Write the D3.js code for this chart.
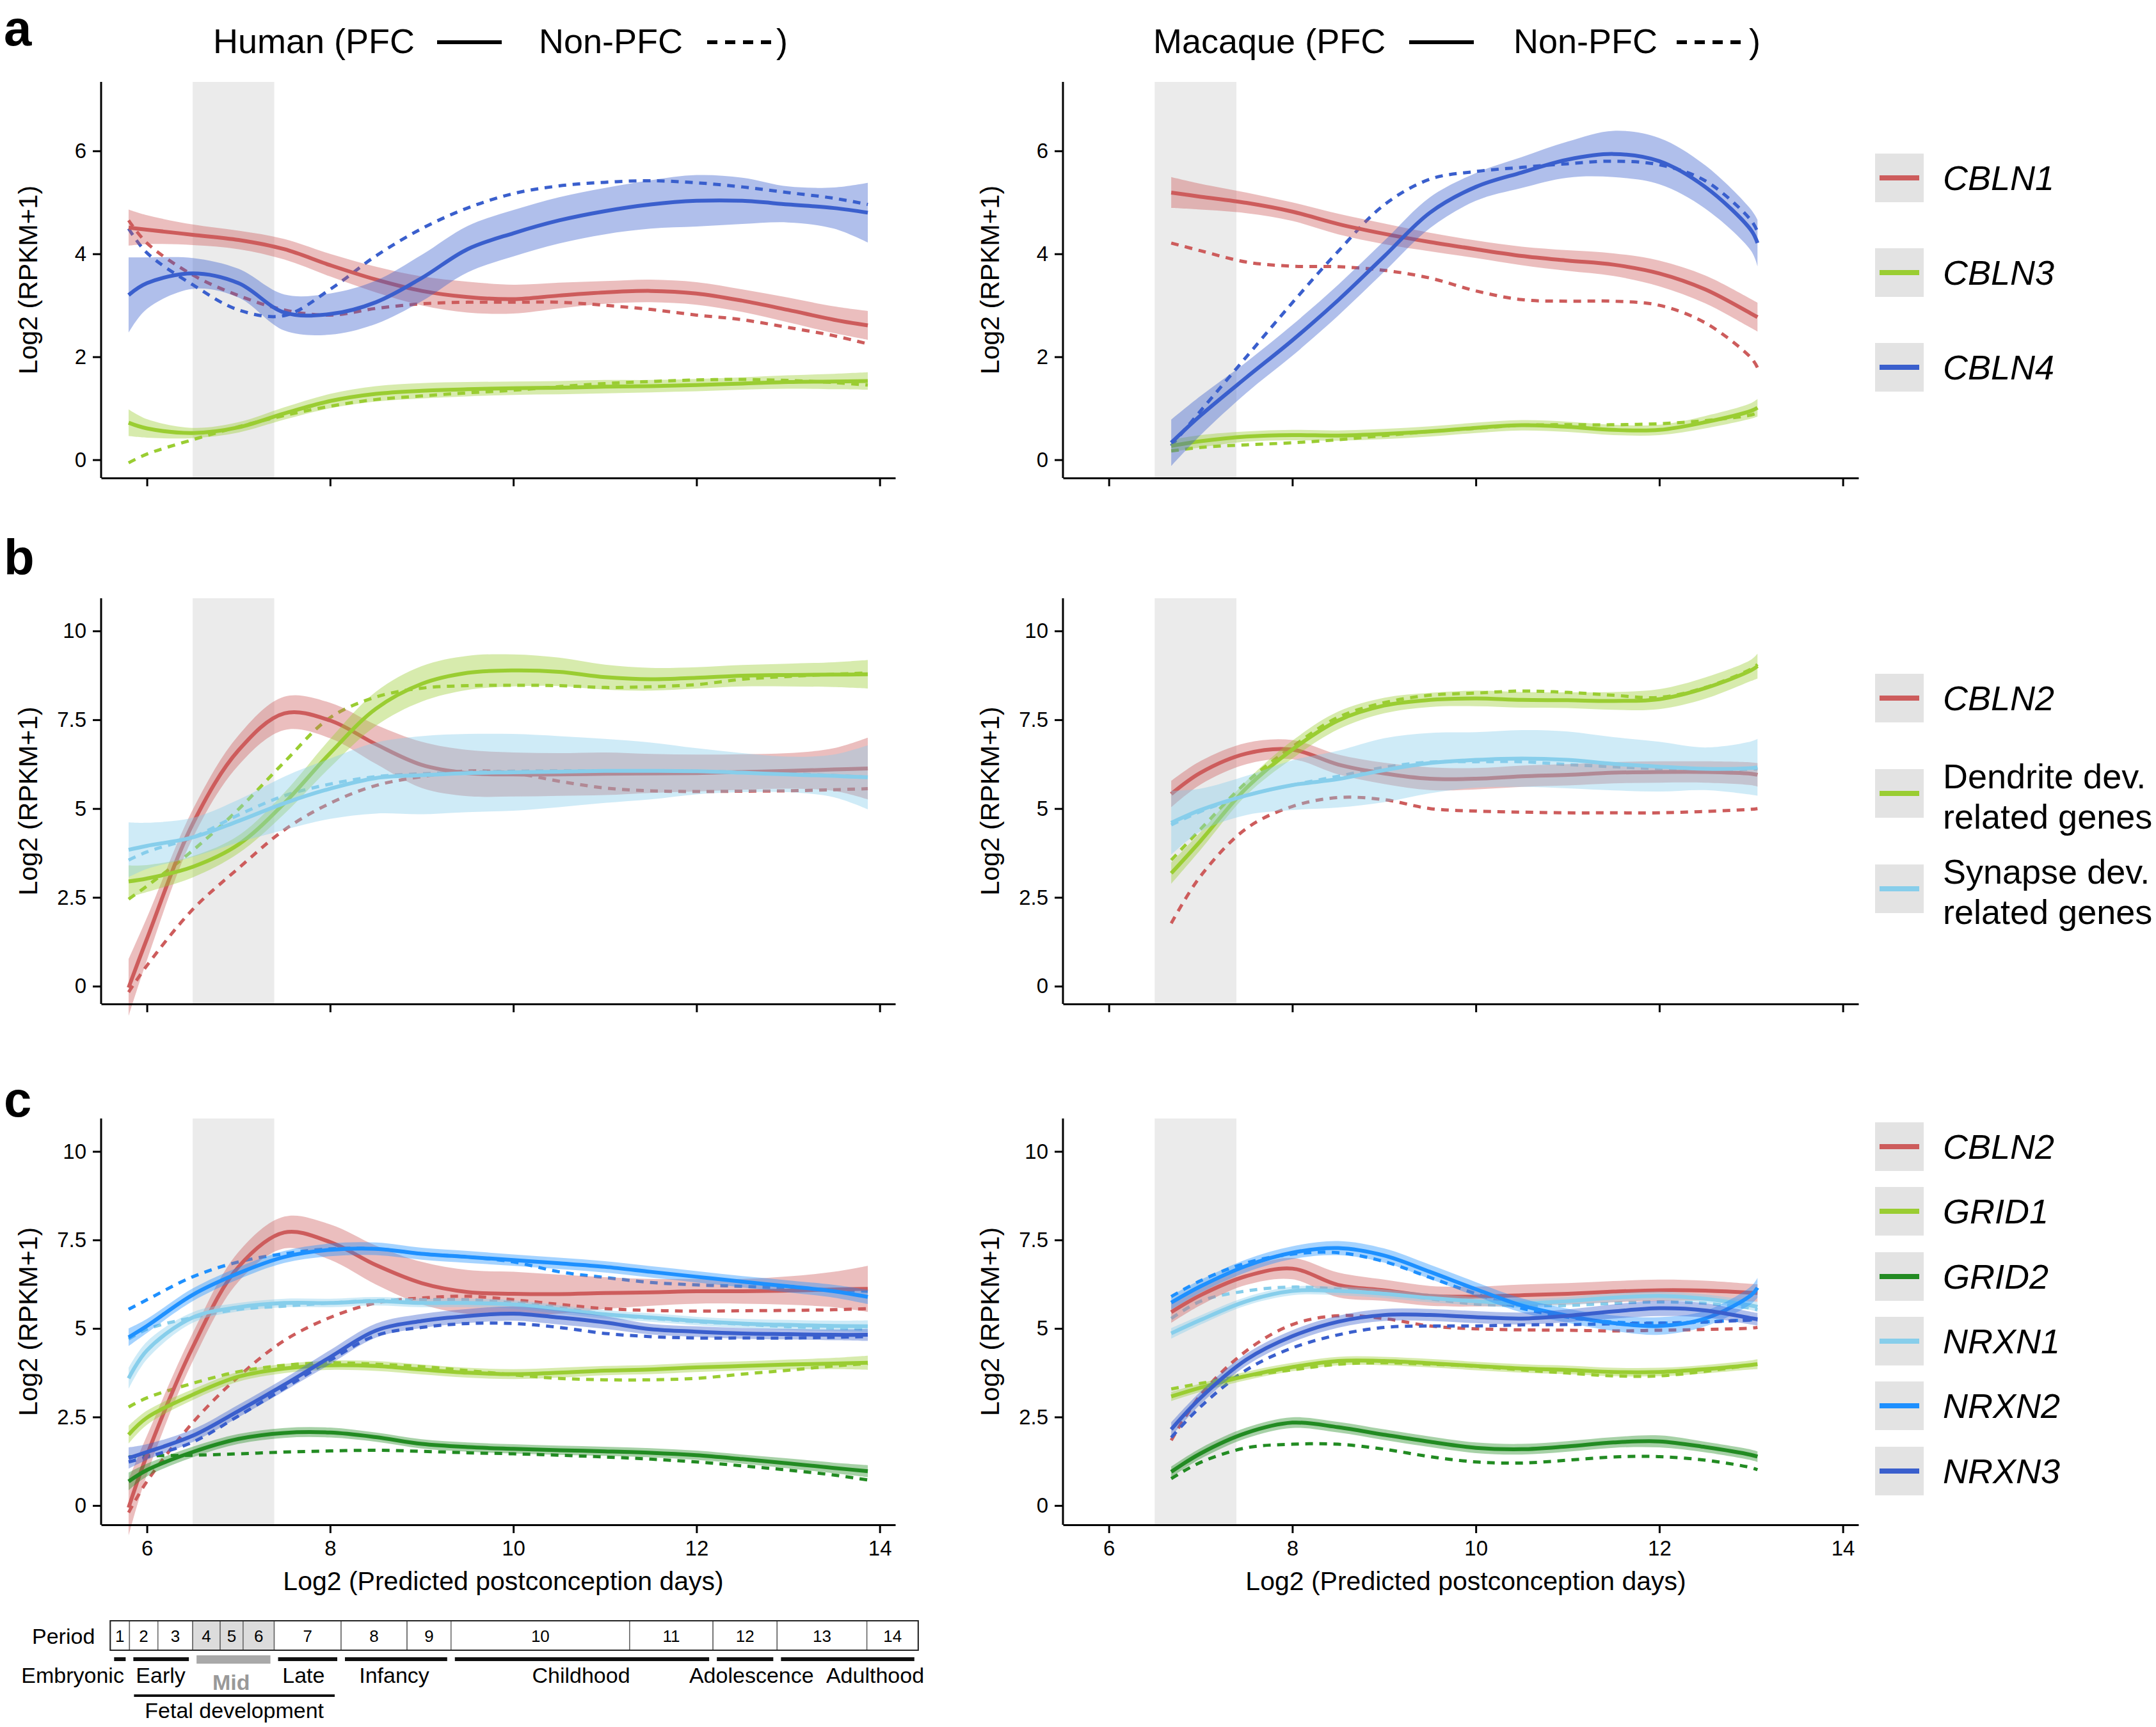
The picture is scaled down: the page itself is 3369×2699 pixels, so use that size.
<!DOCTYPE html>
<html><head><meta charset="utf-8">
<script src="https://cdn.jsdelivr.net/npm/d3@7"></script>
<style>
html,body{margin:0;padding:0;background:#fff;}
svg text{font-family:"Liberation Sans",Arial,Helvetica,sans-serif;}
</style></head><body>
<svg id="chart" width="3369" height="2699"></svg>
<script>
// ---------- x grids (log2 predicted postconception days) ----------
const xHuman   = [5.8, 6, 6.5, 7, 7.5, 8, 8.5, 9, 9.5, 10, 10.5, 11, 11.5, 12, 12.5, 13, 13.5, 13.87];
const xMacaque = [6.68, 7, 7.5, 8, 8.5, 9, 9.5, 10, 10.5, 11, 11.5, 12, 12.5, 13, 13.07];

// ---------- panel a, human ----------
const hA_CBLN1     = [4.51, 4.47, 4.37, 4.27, 4.09, 3.78, 3.50, 3.28, 3.16, 3.12, 3.19, 3.25, 3.28, 3.23, 3.09, 2.91, 2.72, 2.61];
const hA_CBLN1_sd  = [0.35, 0.28, 0.2, 0.18, 0.2, 0.22, 0.25, 0.28, 0.3, 0.28, 0.25, 0.22, 0.22, 0.22, 0.22, 0.24, 0.26, 0.28];
const hA_CBLN1_non = [4.65, 4.21, 3.59, 3.19, 2.91, 2.81, 2.94, 3.03, 3.06, 3.06, 3.06, 3.0, 2.92, 2.81, 2.72, 2.57, 2.41, 2.25];
const hA_CBLN3     = [0.72, 0.61, 0.52, 0.63, 0.9, 1.14, 1.28, 1.34, 1.37, 1.39, 1.40, 1.42, 1.43, 1.45, 1.48, 1.51, 1.52, 1.53];
const hA_CBLN3_sd  = [0.26, 0.18, 0.1, 0.1, 0.12, 0.14, 0.15, 0.15, 0.14, 0.13, 0.13, 0.13, 0.12, 0.12, 0.12, 0.13, 0.15, 0.17];
const hA_CBLN3_non = [-0.06, 0.11, 0.39, 0.64, 0.86, 1.04, 1.17, 1.24, 1.30, 1.35, 1.42, 1.48, 1.52, 1.55, 1.56, 1.54, 1.50, 1.45];
const hA_CBLN4     = [3.2, 3.43, 3.62, 3.43, 2.86, 2.83, 3.06, 3.53, 4.09, 4.40, 4.65, 4.83, 4.96, 5.03, 5.03, 4.96, 4.89, 4.80];
const hA_CBLN4_sd  = [0.73, 0.5, 0.3, 0.28, 0.35, 0.4, 0.42, 0.45, 0.45, 0.45, 0.45, 0.45, 0.47, 0.5, 0.45, 0.35, 0.4, 0.58];
const hA_CBLN4_non = [4.49, 4.02, 3.40, 2.91, 2.80, 3.31, 3.96, 4.49, 4.89, 5.17, 5.32, 5.39, 5.42, 5.38, 5.30, 5.19, 5.08, 4.96];

// ---------- panel a, macaque ----------
const mA_CBLN1     = [5.19, 5.11, 4.99, 4.82, 4.58, 4.39, 4.23, 4.09, 3.96, 3.87, 3.79, 3.62, 3.31, 2.84, 2.77];
const mA_CBLN1_sd  = [0.3, 0.25, 0.2, 0.18, 0.2, 0.2, 0.18, 0.17, 0.18, 0.2, 0.22, 0.25, 0.27, 0.28, 0.28];
const mA_CBLN1_non = [4.21, 4.06, 3.84, 3.76, 3.75, 3.68, 3.53, 3.28, 3.11, 3.08, 3.08, 3.0, 2.66, 1.98, 1.79];
const mA_CBLN3     = [0.27, 0.36, 0.45, 0.48, 0.47, 0.50, 0.55, 0.62, 0.67, 0.64, 0.58, 0.58, 0.73, 0.95, 1.01];
const mA_CBLN3_sd  = [0.12, 0.12, 0.1, 0.1, 0.1, 0.1, 0.1, 0.1, 0.1, 0.1, 0.1, 0.1, 0.12, 0.15, 0.17];
const mA_CBLN3_non = [0.17, 0.24, 0.29, 0.33, 0.39, 0.47, 0.55, 0.61, 0.67, 0.68, 0.68, 0.70, 0.76, 0.87, 0.91];
const mA_CBLN4     = [0.33, 0.86, 1.6, 2.32, 3.1, 3.95, 4.8, 5.3, 5.58, 5.83, 5.94, 5.80, 5.30, 4.46, 4.21];
const mA_CBLN4_sd  = [0.45, 0.38, 0.3, 0.3, 0.3, 0.3, 0.3, 0.27, 0.3, 0.35, 0.45, 0.45, 0.42, 0.4, 0.45];
const mA_CBLN4_non = [0.27, 0.95, 2.0, 3.05, 4.05, 4.95, 5.45, 5.6, 5.68, 5.75, 5.8, 5.73, 5.42, 4.65, 4.43];

// ---------- panel b, human ----------
const hB_CBLN2     = [-0.04, 1.33, 4.57, 6.64, 7.68, 7.48, 6.81, 6.23, 6.0, 5.96, 5.96, 5.98, 5.99, 6.0, 6.03, 6.06, 6.1, 6.13];
const hB_CBLN2_sd  = [0.8, 0.6, 0.4, 0.42, 0.47, 0.5, 0.55, 0.65, 0.65, 0.62, 0.6, 0.6, 0.55, 0.52, 0.5, 0.5, 0.6, 0.87];
const hB_CBLN2_non = [-0.17, 0.58, 2.16, 3.32, 4.40, 5.15, 5.65, 5.90, 6.06, 6.0, 5.77, 5.58, 5.50, 5.48, 5.49, 5.50, 5.53, 5.56];
const hB_DEND      = [2.95, 3.03, 3.36, 3.99, 5.15, 6.56, 7.81, 8.51, 8.82, 8.89, 8.85, 8.70, 8.64, 8.68, 8.74, 8.76, 8.77, 8.78];
const hB_DEND_sd   = [0.45, 0.38, 0.3, 0.25, 0.3, 0.4, 0.48, 0.5, 0.48, 0.45, 0.4, 0.35, 0.32, 0.3, 0.3, 0.32, 0.35, 0.4];
const hB_DEND_non  = [2.45, 2.82, 3.82, 4.98, 6.31, 7.56, 8.14, 8.39, 8.46, 8.47, 8.46, 8.41, 8.43, 8.49, 8.64, 8.72, 8.78, 8.82];
const hB_SYN       = [3.84, 3.95, 4.19, 4.65, 5.15, 5.56, 5.86, 5.94, 6.0, 6.02, 6.04, 6.06, 6.06, 6.05, 6.01, 5.96, 5.92, 5.88];
const hB_SYN_sd    = [0.77, 0.65, 0.55, 0.6, 0.75, 0.85, 1.0, 1.1, 1.1, 1.08, 1.0, 0.9, 0.8, 0.65, 0.55, 0.5, 0.6, 0.9];
const hB_SYN_non   = [3.55, 3.78, 4.19, 4.82, 5.36, 5.69, 5.9, 5.98, 6.02, 6.05, 6.06, 6.06, 6.06, 6.05, 6.02, 5.98, 5.93, 5.88];

// ---------- panel b, macaque ----------
const mB_CBLN2     = [5.41, 6.01, 6.55, 6.66, 6.24, 5.99, 5.84, 5.84, 5.91, 5.95, 6.01, 6.03, 6.03, 5.98, 5.95];
const mB_CBLN2_sd  = [0.37, 0.33, 0.3, 0.27, 0.28, 0.3, 0.32, 0.3, 0.3, 0.3, 0.3, 0.3, 0.3, 0.32, 0.33];
const mB_CBLN2_non = [1.77, 3.10, 4.44, 5.06, 5.31, 5.25, 5.0, 4.93, 4.90, 4.88, 4.88, 4.88, 4.92, 4.98, 5.0];
const mB_DEND      = [3.18, 4.09, 5.58, 6.66, 7.48, 7.90, 8.06, 8.10, 8.06, 8.05, 8.03, 8.08, 8.39, 8.89, 9.01];
const mB_DEND_sd   = [0.3, 0.25, 0.2, 0.25, 0.25, 0.22, 0.2, 0.22, 0.22, 0.22, 0.25, 0.28, 0.3, 0.3, 0.35];
const mB_DEND_non  = [3.55, 4.42, 5.74, 6.74, 7.57, 7.98, 8.19, 8.25, 8.31, 8.27, 8.19, 8.13, 8.41, 8.93, 9.06];
const mB_SYN       = [4.60, 4.96, 5.37, 5.66, 5.83, 6.08, 6.28, 6.37, 6.41, 6.37, 6.26, 6.18, 6.12, 6.14, 6.16];
const mB_SYN_sd    = [0.9, 0.6, 0.55, 0.7, 0.8, 0.9, 0.85, 0.78, 0.8, 0.8, 0.75, 0.7, 0.6, 0.75, 0.8];
const mB_SYN_non   = [4.54, 4.92, 5.37, 5.66, 5.91, 6.16, 6.31, 6.32, 6.32, 6.24, 6.18, 6.12, 6.09, 6.11, 6.12];

// ---------- panel c, human ----------
const hC_CBLN2     = [-0.06, 1.42, 4.47, 6.74, 7.71, 7.44, 6.79, 6.28, 6.03, 5.98, 5.97, 6.0, 6.02, 6.05, 6.05, 6.07, 6.10, 6.12];
const hC_CBLN2_sd  = [0.8, 0.55, 0.4, 0.42, 0.45, 0.5, 0.55, 0.6, 0.62, 0.62, 0.55, 0.45, 0.38, 0.35, 0.35, 0.4, 0.5, 0.65];
const hC_CBLN2_non = [-0.2, 0.68, 2.34, 3.64, 4.66, 5.31, 5.72, 5.86, 5.91, 5.81, 5.68, 5.56, 5.51, 5.49, 5.50, 5.51, 5.53, 5.56];
const hC_GRID1     = [2.0, 2.48, 3.13, 3.64, 3.87, 3.96, 3.94, 3.84, 3.75, 3.71, 3.75, 3.81, 3.84, 3.90, 3.94, 3.98, 4.01, 4.03];
const hC_GRID1_sd  = [0.25, 0.2, 0.15, 0.14, 0.13, 0.13, 0.14, 0.14, 0.14, 0.14, 0.14, 0.13, 0.13, 0.13, 0.13, 0.14, 0.16, 0.2];
const hC_GRID1_non = [2.78, 3.04, 3.45, 3.78, 3.96, 4.03, 3.99, 3.92, 3.81, 3.69, 3.59, 3.55, 3.55, 3.59, 3.71, 3.82, 3.94, 4.01];
const hC_GRID2     = [0.68, 1.0, 1.51, 1.88, 2.05, 2.06, 1.93, 1.74, 1.65, 1.60, 1.56, 1.53, 1.49, 1.42, 1.31, 1.19, 1.06, 0.97];
const hC_GRID2_sd  = [0.25, 0.18, 0.15, 0.14, 0.14, 0.14, 0.13, 0.13, 0.13, 0.13, 0.13, 0.13, 0.13, 0.13, 0.13, 0.14, 0.15, 0.17];
const hC_GRID2_non = [1.37, 1.40, 1.42, 1.46, 1.51, 1.54, 1.56, 1.53, 1.49, 1.46, 1.42, 1.37, 1.31, 1.23, 1.12, 1.0, 0.86, 0.72];
const hC_NRXN1     = [3.59, 4.38, 5.31, 5.60, 5.72, 5.72, 5.77, 5.72, 5.72, 5.68, 5.54, 5.40, 5.31, 5.21, 5.14, 5.10, 5.07, 5.06];
const hC_NRXN1_sd  = [0.3, 0.25, 0.15, 0.12, 0.12, 0.12, 0.12, 0.12, 0.12, 0.12, 0.12, 0.12, 0.12, 0.12, 0.13, 0.14, 0.15, 0.17];
const hC_NRXN1_non = [4.70, 4.98, 5.31, 5.54, 5.63, 5.72, 5.79, 5.81, 5.81, 5.72, 5.58, 5.40, 5.29, 5.19, 5.12, 5.05, 5.01, 4.98];
const hC_NRXN2     = [4.75, 5.07, 5.95, 6.56, 7.02, 7.22, 7.25, 7.11, 7.02, 6.93, 6.84, 6.74, 6.60, 6.46, 6.32, 6.19, 6.05, 5.89];
const hC_NRXN2_sd  = [0.25, 0.2, 0.18, 0.17, 0.17, 0.18, 0.18, 0.17, 0.17, 0.16, 0.16, 0.16, 0.16, 0.16, 0.16, 0.17, 0.18, 0.2];
const hC_NRXN2_non = [5.54, 5.81, 6.46, 6.88, 7.11, 7.25, 7.25, 7.11, 7.02, 6.88, 6.60, 6.44, 6.30, 6.23, 6.19, 6.14, 6.09, 6.05];
const hC_NRXN3     = [1.34, 1.51, 1.97, 2.67, 3.41, 4.19, 4.94, 5.21, 5.35, 5.42, 5.31, 5.17, 4.98, 4.91, 4.86, 4.84, 4.82, 4.82];
const hC_NRXN3_sd  = [0.3, 0.22, 0.18, 0.18, 0.18, 0.2, 0.2, 0.2, 0.2, 0.2, 0.2, 0.18, 0.15, 0.15, 0.15, 0.15, 0.15, 0.17];
const hC_NRXN3_non = [1.23, 1.37, 1.79, 2.53, 3.31, 4.10, 4.80, 5.03, 5.14, 5.14, 5.03, 4.86, 4.77, 4.73, 4.73, 4.73, 4.75, 4.77];

// ---------- panel c, macaque ----------
const mC_CBLN2     = [5.46, 5.94, 6.48, 6.69, 6.23, 6.08, 5.92, 5.90, 5.94, 5.98, 6.04, 6.08, 6.07, 6.01, 6.0];
const mC_CBLN2_sd  = [0.3, 0.28, 0.25, 0.3, 0.35, 0.3, 0.28, 0.28, 0.3, 0.3, 0.3, 0.3, 0.28, 0.25, 0.25];
const mC_CBLN2_non = [1.84, 3.12, 4.37, 5.11, 5.36, 5.28, 5.07, 4.99, 4.96, 4.95, 4.93, 4.95, 4.97, 5.01, 5.03];
const mC_GRID1     = [3.08, 3.33, 3.66, 3.91, 4.08, 4.08, 4.02, 3.94, 3.87, 3.83, 3.77, 3.77, 3.85, 3.97, 3.99];
const mC_GRID1_sd  = [0.13, 0.12, 0.12, 0.12, 0.12, 0.12, 0.12, 0.12, 0.12, 0.12, 0.12, 0.12, 0.12, 0.13, 0.14];
const mC_GRID1_non = [3.29, 3.45, 3.66, 3.83, 3.99, 4.03, 3.99, 3.93, 3.83, 3.74, 3.66, 3.66, 3.79, 3.97, 3.99];
const mC_GRID2     = [0.95, 1.47, 2.05, 2.34, 2.21, 2.0, 1.80, 1.63, 1.59, 1.67, 1.78, 1.81, 1.65, 1.43, 1.38];
const mC_GRID2_sd  = [0.15, 0.15, 0.15, 0.15, 0.15, 0.15, 0.15, 0.15, 0.15, 0.15, 0.15, 0.17, 0.15, 0.15, 0.15];
const mC_GRID2_non = [0.76, 1.22, 1.63, 1.73, 1.73, 1.59, 1.38, 1.23, 1.20, 1.28, 1.37, 1.38, 1.28, 1.07, 1.01];
const mC_NRXN1     = [4.86, 5.24, 5.77, 6.06, 6.06, 5.98, 5.86, 5.77, 5.71, 5.77, 5.87, 5.92, 5.84, 5.65, 5.61];
const mC_NRXN1_sd  = [0.15, 0.13, 0.12, 0.12, 0.12, 0.12, 0.12, 0.12, 0.12, 0.12, 0.12, 0.12, 0.12, 0.13, 0.14];
const mC_NRXN1_non = [5.28, 5.77, 6.06, 6.17, 6.11, 6.01, 5.84, 5.69, 5.65, 5.65, 5.71, 5.75, 5.71, 5.57, 5.53];
const mC_NRXN2     = [5.73, 6.19, 6.77, 7.14, 7.27, 7.06, 6.60, 6.11, 5.65, 5.36, 5.15, 5.07, 5.28, 5.94, 6.15];
const mC_NRXN2_sd  = [0.2, 0.18, 0.18, 0.18, 0.2, 0.2, 0.2, 0.2, 0.2, 0.2, 0.22, 0.25, 0.22, 0.25, 0.28];
const mC_NRXN2_non = [5.90, 6.35, 6.85, 7.10, 7.14, 6.89, 6.44, 5.98, 5.57, 5.32, 5.18, 5.15, 5.19, 5.24, 5.24];
const mC_NRXN3     = [2.15, 3.04, 4.12, 4.78, 5.19, 5.38, 5.38, 5.32, 5.28, 5.36, 5.48, 5.57, 5.51, 5.29, 5.26];
const mC_NRXN3_sd  = [0.2, 0.18, 0.17, 0.17, 0.17, 0.17, 0.17, 0.17, 0.17, 0.18, 0.2, 0.22, 0.2, 0.18, 0.18];
const mC_NRXN3_non = [1.92, 2.79, 3.83, 4.45, 4.82, 5.03, 5.07, 5.07, 5.10, 5.11, 5.13, 5.15, 5.18, 5.24, 5.24];

// ---------- colours, legends, ticks ----------
const geneColor = {
  CBLN1:'#CD5C5C', CBLN2:'#CD5C5C', CBLN3:'#9ACD32', CBLN4:'#3A5FCD',
  DEND:'#9ACD32', SYN:'#87CEEB',
  GRID1:'#9ACD32', GRID2:'#228B22', NRXN1:'#87CEEB', NRXN2:'#1E90FF', NRXN3:'#3A5FCD'
};
const legendA = [['CBLN1'],['CBLN3'],['CBLN4']];
const legendAKeys = ['CBLN1','CBLN3','CBLN4'];
const legendBKeys = ['CBLN2','DEND','SYN'];
const legendBLabels = [['CBLN2'],['Dendrite dev.','related genes'],['Synapse dev.','related genes']];
const legendBItalic = [true,false,false];
const legendCKeys = ['CBLN2','GRID1','GRID2','NRXN1','NRXN2','NRXN3'];
const yTicksA = [0,2,4,6];
const yTicksBC = [0,2.5,5,7.5,10];
const xTicks = [6,8,10,12,14];
const midFetal = [6.5, 7.39];

// period table
const periodNames = ['1','2','3','4','5','6','7','8','9','10','11','12','13','14'];
const periodBounds = [5.6, 5.81, 6.12, 6.5, 6.8, 7.05, 7.39, 8.12, 8.84, 9.32, 11.27, 12.18, 12.88, 13.86, 14.42];
const periodShaded = ['4','5','6'];
const stageNames  = ['Embryonic','Early','Mid','Late','Infancy','Childhood','Adolescence','Adulthood'];
const stageFirst  = [1, 2, 4, 7, 8, 10, 12, 13];
const stageLast   = [1, 3, 6, 7, 9, 11, 12, 14];
const stageLabelX = [5.19, 6.15, 6.92, 7.71, 8.70, 10.74, 12.60, 13.95];

// ---------- build ----------
const svg = d3.select('#chart');
const W = 3369, H = 2699;
svg.append('rect').attr('width',W).attr('height',H).attr('fill','#fff');

const xDomain = [5.5, 14.17];
const cols = {L:[158,1399], R:[1661,2904]};
const rows = {
  a:{top:128, bottom:747, domain:[-0.354,7.34], ticks:yTicksA},
  b:{top:935, bottom:1569, domain:[-0.5,10.92], ticks:yTicksBC},
  c:{top:1748, bottom:2383, domain:[-0.545,10.93], ticks:yTicksBC}
};

function S(key, pfc, sd, non){ return {key, pfc, sd, non}; }
const panels = [
  {row:'a', col:'L', xs:xHuman, series:[S('CBLN1',hA_CBLN1,hA_CBLN1_sd,hA_CBLN1_non),S('CBLN3',hA_CBLN3,hA_CBLN3_sd,hA_CBLN3_non),S('CBLN4',hA_CBLN4,hA_CBLN4_sd,hA_CBLN4_non)]},
  {row:'a', col:'R', xs:xMacaque, series:[S('CBLN1',mA_CBLN1,mA_CBLN1_sd,mA_CBLN1_non),S('CBLN3',mA_CBLN3,mA_CBLN3_sd,mA_CBLN3_non),S('CBLN4',mA_CBLN4,mA_CBLN4_sd,mA_CBLN4_non)]},
  {row:'b', col:'L', xs:xHuman, series:[S('CBLN2',hB_CBLN2,hB_CBLN2_sd,hB_CBLN2_non),S('DEND',hB_DEND,hB_DEND_sd,hB_DEND_non),S('SYN',hB_SYN,hB_SYN_sd,hB_SYN_non)]},
  {row:'b', col:'R', xs:xMacaque, series:[S('CBLN2',mB_CBLN2,mB_CBLN2_sd,mB_CBLN2_non),S('DEND',mB_DEND,mB_DEND_sd,mB_DEND_non),S('SYN',mB_SYN,mB_SYN_sd,mB_SYN_non)]},
  {row:'c', col:'L', xs:xHuman, series:[S('CBLN2',hC_CBLN2,hC_CBLN2_sd,hC_CBLN2_non),S('GRID1',hC_GRID1,hC_GRID1_sd,hC_GRID1_non),S('GRID2',hC_GRID2,hC_GRID2_sd,hC_GRID2_non),S('NRXN1',hC_NRXN1,hC_NRXN1_sd,hC_NRXN1_non),S('NRXN2',hC_NRXN2,hC_NRXN2_sd,hC_NRXN2_non),S('NRXN3',hC_NRXN3,hC_NRXN3_sd,hC_NRXN3_non)]},
  {row:'c', col:'R', xs:xMacaque, series:[S('CBLN2',mC_CBLN2,mC_CBLN2_sd,mC_CBLN2_non),S('GRID1',mC_GRID1,mC_GRID1_sd,mC_GRID1_non),S('GRID2',mC_GRID2,mC_GRID2_sd,mC_GRID2_non),S('NRXN1',mC_NRXN1,mC_NRXN1_sd,mC_NRXN1_non),S('NRXN2',mC_NRXN2,mC_NRXN2_sd,mC_NRXN2_non),S('NRXN3',mC_NRXN3,mC_NRXN3_sd,mC_NRXN3_non)]}
];

const FONT_TICK = 33, FONT_AXT = 41;
let xLeftScale = null;

panels.forEach(p => {
  const r = rows[p.row];
  const x = d3.scaleLinear().domain(xDomain).range(cols[p.col]);
  const y = d3.scaleLinear().domain(r.domain).range([r.bottom, r.top]);
  if (p.row === 'c' && p.col === 'L') xLeftScale = x;
  const g = svg.append('g');

  // mid-fetal shading
  g.append('rect')
    .attr('x', x(midFetal[0])).attr('width', x(midFetal[1]) - x(midFetal[0]))
    .attr('y', r.top).attr('height', r.bottom - r.top)
    .attr('fill', '#EBEBEB');

  const curve = d3.curveCatmullRom.alpha(0.5);
  const line = d3.line().x((d,i) => x(p.xs[i])).y(d => y(d)).curve(curve);
  // dashed non-PFC (drawn first, below ribbons)
  p.series.forEach(s => {
    g.append('path').datum(s.non).attr('d', line)
      .attr('fill','none').attr('stroke', geneColor[s.key])
      .attr('stroke-width', 5).attr('stroke-dasharray','12 10');
  });
  // per gene: ribbon then solid PFC line
  p.series.forEach(s => {
    const area = d3.area()
      .x((d,i) => x(p.xs[i]))
      .y0((d,i) => y(s.pfc[i] - s.sd[i]))
      .y1((d,i) => y(s.pfc[i] + s.sd[i]))
      .curve(curve);
    g.append('path').datum(s.pfc).attr('d', area)
      .attr('fill', geneColor[s.key]).attr('fill-opacity', 0.4);
    g.append('path').datum(s.pfc).attr('d', line)
      .attr('fill','none').attr('stroke', geneColor[s.key])
      .attr('stroke-width', 6);
  });

  // axes
  const ya = d3.axisLeft(y).tickValues(r.ticks).tickSize(13).tickSizeOuter(0).tickPadding(10)
    .tickFormat(d => String(d));
  const yg = g.append('g').attr('transform', `translate(${cols[p.col][0]},0)`).call(ya);
  const xa = d3.axisBottom(x).tickValues(xTicks).tickSize(13).tickSizeOuter(0).tickPadding(12)
    .tickFormat(p.row === 'c' ? (d => String(d)) : (() => ''));
  const xg = g.append('g').attr('transform', `translate(0,${r.bottom})`).call(xa);
  [yg, xg].forEach(ax => {
    ax.select('.domain').attr('stroke','#000').attr('stroke-width',3);
    ax.selectAll('.tick line').attr('stroke','#000').attr('stroke-width',3);
    ax.selectAll('.tick text').attr('font-size',FONT_TICK).attr('fill','#000')
      .attr('font-family','"Liberation Sans",Arial,sans-serif');
  });
  yg.select('.domain').attr('d', `M0,${r.top}V${r.bottom}`);

  // y axis title
  const yc = (r.top + r.bottom) / 2;
  const ytx = cols[p.col][0] - 114;
  g.append('text').attr('transform', `translate(${ytx},${yc}) rotate(-90)`)
    .attr('text-anchor','middle').attr('dominant-baseline','central')
    .attr('font-size', FONT_AXT).text('Log2 (RPKM+1)');

  if (p.row === 'c') {
    g.append('text').attr('x', (cols[p.col][0] + cols[p.col][1]) / 2 + 8).attr('y', 2485)
      .attr('text-anchor','middle').attr('font-size', FONT_AXT)
      .text('Log2 (Predicted postconception days)');
  }
});

// panel letters
[['a',71],['b',898],['c',1745]].forEach(([t,yb]) => {
  svg.append('text').attr('x',6).attr('y',yb).attr('font-size',78).attr('font-weight','bold').text(t);
});

// titles
function title(x0, species, lineX, nonX, dashX, parX) {
  const fs = 54, yb = 83, ym = 66;
  svg.append('text').attr('x',x0).attr('y',yb).attr('font-size',fs).text(species + ' (PFC');
  svg.append('line').attr('x1',lineX).attr('x2',lineX+101).attr('y1',ym).attr('y2',ym)
    .attr('stroke','#000').attr('stroke-width',6);
  svg.append('text').attr('x',nonX).attr('y',yb).attr('font-size',fs).text('Non-PFC');
  svg.append('line').attr('x1',dashX).attr('x2',dashX+100).attr('y1',ym).attr('y2',ym)
    .attr('stroke','#000').attr('stroke-width',6).attr('stroke-dasharray','16 12');
  svg.append('text').attr('x',parX).attr('y',yb).attr('font-size',fs).text(')');
}
title(333, 'Human', 683, 842, 1105, 1213);
title(1802, 'Macaque', 2202, 2365, 2620, 2733);

// legends
function legend(keys, labels, italics, centers) {
  keys.forEach((k, i) => {
    const cy = centers[i];
    svg.append('rect').attr('x',2930).attr('y',cy-38).attr('width',76).attr('height',76).attr('fill','#E3E3E3');
    svg.append('line').attr('x1',2937).attr('x2',2999).attr('y1',cy).attr('y2',cy)
      .attr('stroke',geneColor[k]).attr('stroke-width',8);
    const lab = labels[i];
    const t = svg.append('text').attr('x',3036).attr('font-size',54)
      .attr('font-style', italics[i] ? 'italic' : 'normal');
    if (lab.length === 1) {
      t.attr('y', cy + 19).text(lab[0]);
    } else {
      t.attr('y', cy - 8).text(lab[0]);
      svg.append('text').attr('x',3036).attr('y',cy + 55).attr('font-size',54).text(lab[1]);
    }
  });
}
legend(legendAKeys, legendA, [true,true,true], [278, 426, 574]);
legend(legendBKeys, legendBLabels, legendBItalic, [1091, 1240, 1389]);
legend(legendCKeys, legendCKeys.map(k => [k]), legendCKeys.map(() => true), [1792, 1893, 1995, 2096, 2197, 2299]);

// period table
const xp = xLeftScale;
const tTop = 2533, tBot = 2579;
const tg = svg.append('g');
periodNames.forEach((nm, i) => {
  const x0 = xp(periodBounds[i]), x1 = xp(periodBounds[i+1]);
  tg.append('rect').attr('x',x0).attr('y',tTop).attr('width',x1-x0).attr('height',tBot-tTop)
    .attr('fill', periodShaded.includes(nm) ? '#DCDCDC' : '#fff')
    .attr('stroke','#666').attr('stroke-width',1.5);
  tg.append('text').attr('x',(x0+x1)/2).attr('y',2566).attr('text-anchor','middle')
    .attr('font-size',26).text(nm);
});
tg.append('rect').attr('x',xp(periodBounds[0])).attr('y',tTop)
  .attr('width',xp(periodBounds[periodBounds.length-1]) - xp(periodBounds[0])).attr('height',tBot-tTop)
  .attr('fill','none').attr('stroke','#222').attr('stroke-width',2);
tg.append('text').attr('x',xp(periodBounds[0]) - 24).attr('y',2569).attr('text-anchor','end')
  .attr('font-size',34).text('Period');

stageNames.forEach((nm, i) => {
  const x0 = xp(periodBounds[stageFirst[i]-1]) + 6;
  const x1 = xp(periodBounds[stageLast[i]]) - 6;
  const isMid = nm === 'Mid';
  tg.append('rect').attr('x',x0).attr('width',x1-x0)
    .attr('y', isMid ? 2587 : 2590).attr('height', isMid ? 13 : 6)
    .attr('fill', isMid ? '#A9A9A9' : '#111');
  tg.append('text').attr('x', xp(stageLabelX[i])).attr('y', isMid ? 2641 : 2630)
    .attr('text-anchor','middle').attr('font-size',34)
    .attr('font-weight', isMid ? 'bold' : 'normal')
    .attr('fill', isMid ? '#999' : '#000').text(nm);
});
// fetal development bracket
{
  const x0 = xp(periodBounds[1]) + 7, x1 = xp(periodBounds[7]) - 10;
  tg.append('rect').attr('x',x0).attr('width',x1-x0).attr('y',2648).attr('height',4).attr('fill','#111');
  tg.append('text').attr('x',(x0+x1)/2).attr('y',2685).attr('text-anchor','middle')
    .attr('font-size',34).text('Fetal development');
}
</script></body></html>
